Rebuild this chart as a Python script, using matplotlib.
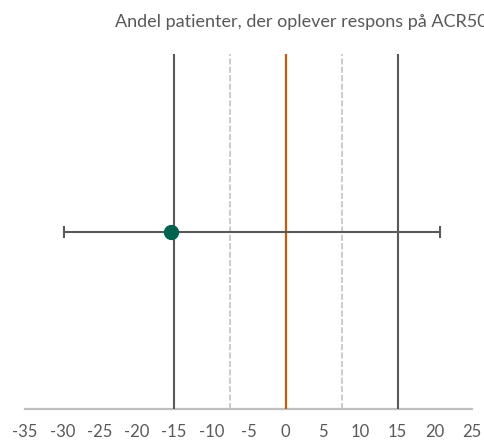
import matplotlib.pyplot as plt

# forest-plot style: one estimate with confidence interval
estimate = [-15.4]
ci_low = [-29.7]
ci_high = [20.7]
row_pos = [1]
margin_lines = [-15, 15]
half_margin = [-7.5, 7.5]
x_ticks = [-35, -30, -25, -20, -15, -10, -5, 0, 5, 10, 15, 20, 25]
title = 'Andel patienter, der oplever respons på ACR50'

plt.rcParams['font.family'] = ['Lato', 'DejaVu Sans']

fig = plt.figure(figsize=(4.85, 4.43), dpi=100)
ax = fig.add_axes([25 / 485, 34 / 443, 447 / 485, 355 / 443])

for v in margin_lines:
    ax.axvline(v, color='#595959', lw=1.5, zorder=1)
for v in half_margin:
    ax.axvline(v, color='#BFBFBF', lw=1.1, ls=(0, (4, 1.5)), zorder=1)
ax.axvline(0, color='#C55A11', lw=1.6, zorder=1)

err_lo = [e - l for e, l in zip(estimate, ci_low)]
err_hi = [h - e for e, h in zip(estimate, ci_high)]
ax.errorbar(estimate, row_pos, xerr=[err_lo, err_hi], fmt='o', color='#595959',
            ecolor='#595959', elinewidth=1.5, capsize=4.5, capthick=1.5,
            markersize=10, markerfacecolor='#00634F', markeredgecolor='#00634F', zorder=3)

ax.set_xlim(-35, 25)
ax.set_ylim(0, 2)
ax.set_xticks(x_ticks)
ax.set_xticklabels([str(t) for t in x_ticks], color='#595959', fontsize=12)
ax.tick_params(axis='x', length=0, pad=11)
ax.set_yticks([])
for s in ['left', 'right', 'top']:
    ax.spines[s].set_visible(False)
ax.spines['bottom'].set_color('#BFBFBF')
ax.spines['bottom'].set_linewidth(1.6)
ax.spines['bottom'].set_zorder(0)

fig.text(115 / 485, 1 - 22 / 443, title, ha='left', va='center', color='#595959', fontsize=13)

fig.savefig('out.png', dpi=100)
